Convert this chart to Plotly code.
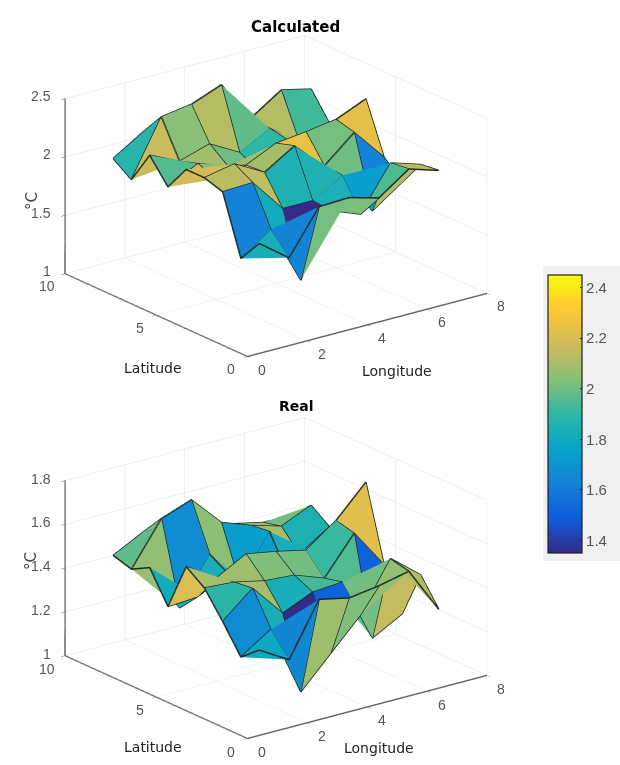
import plotly.graph_objects as go

lons = [1, 2, 3, 4, 5, 6, 7]
lats = [1, 2, 3, 4, 5, 6, 7, 8, 9]

calculated = [
    [1.83, 1.64, 2.01, 2.02, 1.95, 2.13, 2.05],
    [1.63, 1.81, 1.31, 1.84, 1.74, 2.11, 2.03],
    [2.13, 2.14, 1.85, 1.85, 2.00, 1.63, 1.81],
    [2.18, 2.23, 2.09, 2.25, 2.01, 2.23, 1.95],
    [2.18, 2.03, 2.08, 2.20, 2.23, 2.27, 2.38],
    [1.96, 2.09, 2.00, 1.90, 2.09, 1.95, 2.15],
    [2.16, 2.04, 2.12, 1.98, 2.12, 1.93, 2.03],
    [1.88, 2.35, 2.39, 2.49, 2.14, 2.31, 2.25],
    [1.99, 2.15, 2.00, 1.95, 1.90, 1.90, 1.90],
]
real = [
    [1.33, 1.25, 1.49, 1.46, 1.48, 1.51, 1.30],
    [1.26, 1.35, 1.03, 1.17, 1.31, 1.53, 1.42],
    [1.385, 1.50, 1.35, 1.41, 1.42, 1.13, 1.205],
    [1.50, 1.49, 1.46, 1.45, 1.40, 1.57, 1.39],
    [1.56, 1.47, 1.545, 1.52, 1.49, 1.59, 1.73],
    [1.34, 1.35, 1.42, 1.30, 1.35, 1.40, 1.45],
    [1.48, 1.26, 1.47, 1.30, 1.50, 1.36, 1.45],
    [1.435, 1.63, 1.68, 1.54, 1.49, 1.45, 1.51],
    [1.46, 1.53, 1.47, 1.43, 1.46, 1.43, 1.43],
]
# cells of the Real panel whose colour reads differently from their height
real_cell_shade = {(1, 4): 1.45, (2, 5): 1.17}
lon_ticks = [0, 2, 4, 6, 8]
lat_ticks = [0, 5, 10]
z_ticks_calculated = [1, 1.5, 2, 2.5]
z_ticks_real = [1, 1.2, 1.4, 1.6, 1.8]
colorbar_ticks = [1.4, 1.6, 1.8, 2.0, 2.2, 2.4]
colorbar_labels = ["1.4", "1.6", "1.8", "2", "2.2", "2.4"]
parula = ["#352a87", "#0f5cdd", "#1481d6", "#06a4ca", "#2eb7a4",
          "#87bf77", "#d1bb59", "#fec832", "#f9fb0e"]
scale = [[i / 8, c] for i, c in enumerate(parula)]


def surface_traces(z, scene, cmin, cmax, show_bar, shade=None):
    shade = shade or {}
    nr, nc = len(lats), len(lons)
    xs = [lons[c] for r in range(nr) for c in range(nc)]
    ys = [lats[r] for r in range(nr) for c in range(nc)]
    zs = [z[r][c] for r in range(nr) for c in range(nc)]
    i, j, k, inten = [], [], [], []
    for r in range(nr - 1):
        for c in range(nc - 1):
            a = r * nc + c
            b, d, e = a + 1, a + nc, a + nc + 1
            i += [a, b]
            j += [b, e]
            k += [d, d]
            v = shade.get((r, c), z[r][c])
            inten += [v, v]
    mesh = go.Mesh3d(
        x=xs, y=ys, z=zs, i=i, j=j, k=k, intensity=inten, intensitymode="cell",
        colorscale=scale, cmin=cmin, cmax=cmax, flatshading=True, scene=scene,
        lighting=dict(ambient=1, diffuse=0, specular=0, roughness=1, fresnel=0),
        hoverinfo="skip", showscale=show_bar,
        colorbar=dict(
            x=548 / 620, xanchor="left", y=(765 - 414) / 765, yanchor="middle",
            len=278 / 765, thickness=34, xpad=0, ypad=0, outlinecolor="#222",
            outlinewidth=1.2, tickvals=colorbar_ticks, ticktext=colorbar_labels,
            ticks="inside", ticklen=2, tickcolor="#222",
            tickfont=dict(family="Liberation Sans", size=15, color="#555"),
        ),
    )
    lx, ly, lz = [], [], []
    for r in range(nr):
        for c in range(nc):
            lx.append(lons[c]); ly.append(lats[r]); lz.append(z[r][c])
        lx.append(None); ly.append(None); lz.append(None)
    for c in range(nc):
        for r in range(nr):
            lx.append(lons[c]); ly.append(lats[r]); lz.append(z[r][c])
        lx.append(None); ly.append(None); lz.append(None)
    lines = go.Scatter3d(x=lx, y=ly, z=lz, mode="lines", scene=scene,
                         line=dict(color="#1c2a25", width=3), hoverinfo="skip",
                         showlegend=False)
    return [mesh, lines]


def axis(rng, ticks):
    return dict(
        range=rng, tickvals=ticks, showticklabels=False,
        showbackground=False, gridcolor="#e2e2e2", gridwidth=1, zeroline=False,
        showline=True, linecolor="#666", linewidth=3, ticks="outside", ticklen=5,
        tickcolor="#666", showspikes=False, title=dict(text=""),
    )


def fmt(v):
    return f"{v:g}"


def tick_notes(z_ticks):
    font = dict(family="Liberation Sans", size=14, color="#555")
    z0 = z_ticks[0]
    notes = []
    for v in lon_ticks:
        notes.append(dict(x=v, y=0, z=z0, text=fmt(v), showarrow=False, font=font,
                          xshift=14.5, yshift=-13.5))
    for v in lat_ticks:
        notes.append(dict(x=0, y=v, z=z0, text=fmt(v), showarrow=False, font=font,
                          xshift=-18 if v == 10 else -16, yshift=-13))
    for v in z_ticks:
        notes.append(dict(x=0, y=10, z=v, text=fmt(v), showarrow=False, font=font,
                          xanchor="right", xshift=-12, yshift=2))
    return notes


def scene(domain_y, z_ticks):
    return dict(
        domain=dict(x=[0, 552 / 620], y=domain_y),
        xaxis=axis([0, 8], lon_ticks),
        yaxis=axis([0, 10], lat_ticks),
        zaxis=axis([z_ticks[0], z_ticks[-1]], z_ticks),
        annotations=tick_notes(z_ticks),
        aspectmode="manual", aspectratio=dict(x=1.61, y=1.61, z=0.998),
        camera=dict(
            projection=dict(type="orthographic"),
            eye=dict(x=-0.5686 * 2.2, y=-0.7464 * 2.2, z=0.3458 * 2.2),
            center=dict(x=0, y=0, z=0), up=dict(x=0, y=0, z=1),
        ),
    )


fig = go.Figure()
fig.add_traces(surface_traces(calculated, "scene", 1.35, 2.45, True))
fig.add_traces(surface_traces(real, "scene2", 1.08, 1.70, False, real_cell_shade))


def note(text, x, y, size=13, bold=False, angle=0, color="#222"):
    fig.add_annotation(
        text=f"<b>{text}</b>" if bold else text, x=x / 620, y=1 - y / 765,
        xref="paper", yref="paper", showarrow=False, textangle=angle,
        font=dict(family="DejaVu Sans", size=size, color=color),
    )


note("Calculated", 295, 16, 15, True, color="#000")
note("Real", 296, 406, 14, True, color="#000")
note("Latitude", 122, 368, 14)
note("Longitude", 397, 371, 14)
note("Latitude", 122, 757, 14)
note("Longitude", 379, 758, 14)
note("°C", 21, 190, 15, angle=-90, color="#444")
note("°C", 20, 572, 15, angle=-90, color="#444")

fig.update_layout(
    width=620, height=765, margin=dict(l=0, r=0, t=0, b=0),
    paper_bgcolor="white", showlegend=False,
    scene=scene([1 - 382.5 / 765, 1 - 8.5 / 765], z_ticks_calculated),
    scene2=scene([0, 374 / 765], z_ticks_real),
    shapes=[dict(type="rect", xref="paper", yref="paper", layer="below",
                 x0=543 / 620, x1=1, y0=1 - 561 / 765, y1=1 - 266 / 765,
                 fillcolor="#f0f0f0", line=dict(width=0))],
)
fig.write_html("out.html", post_script="document.body.style.margin='0';",
               config=dict(displayModeBar=False))
